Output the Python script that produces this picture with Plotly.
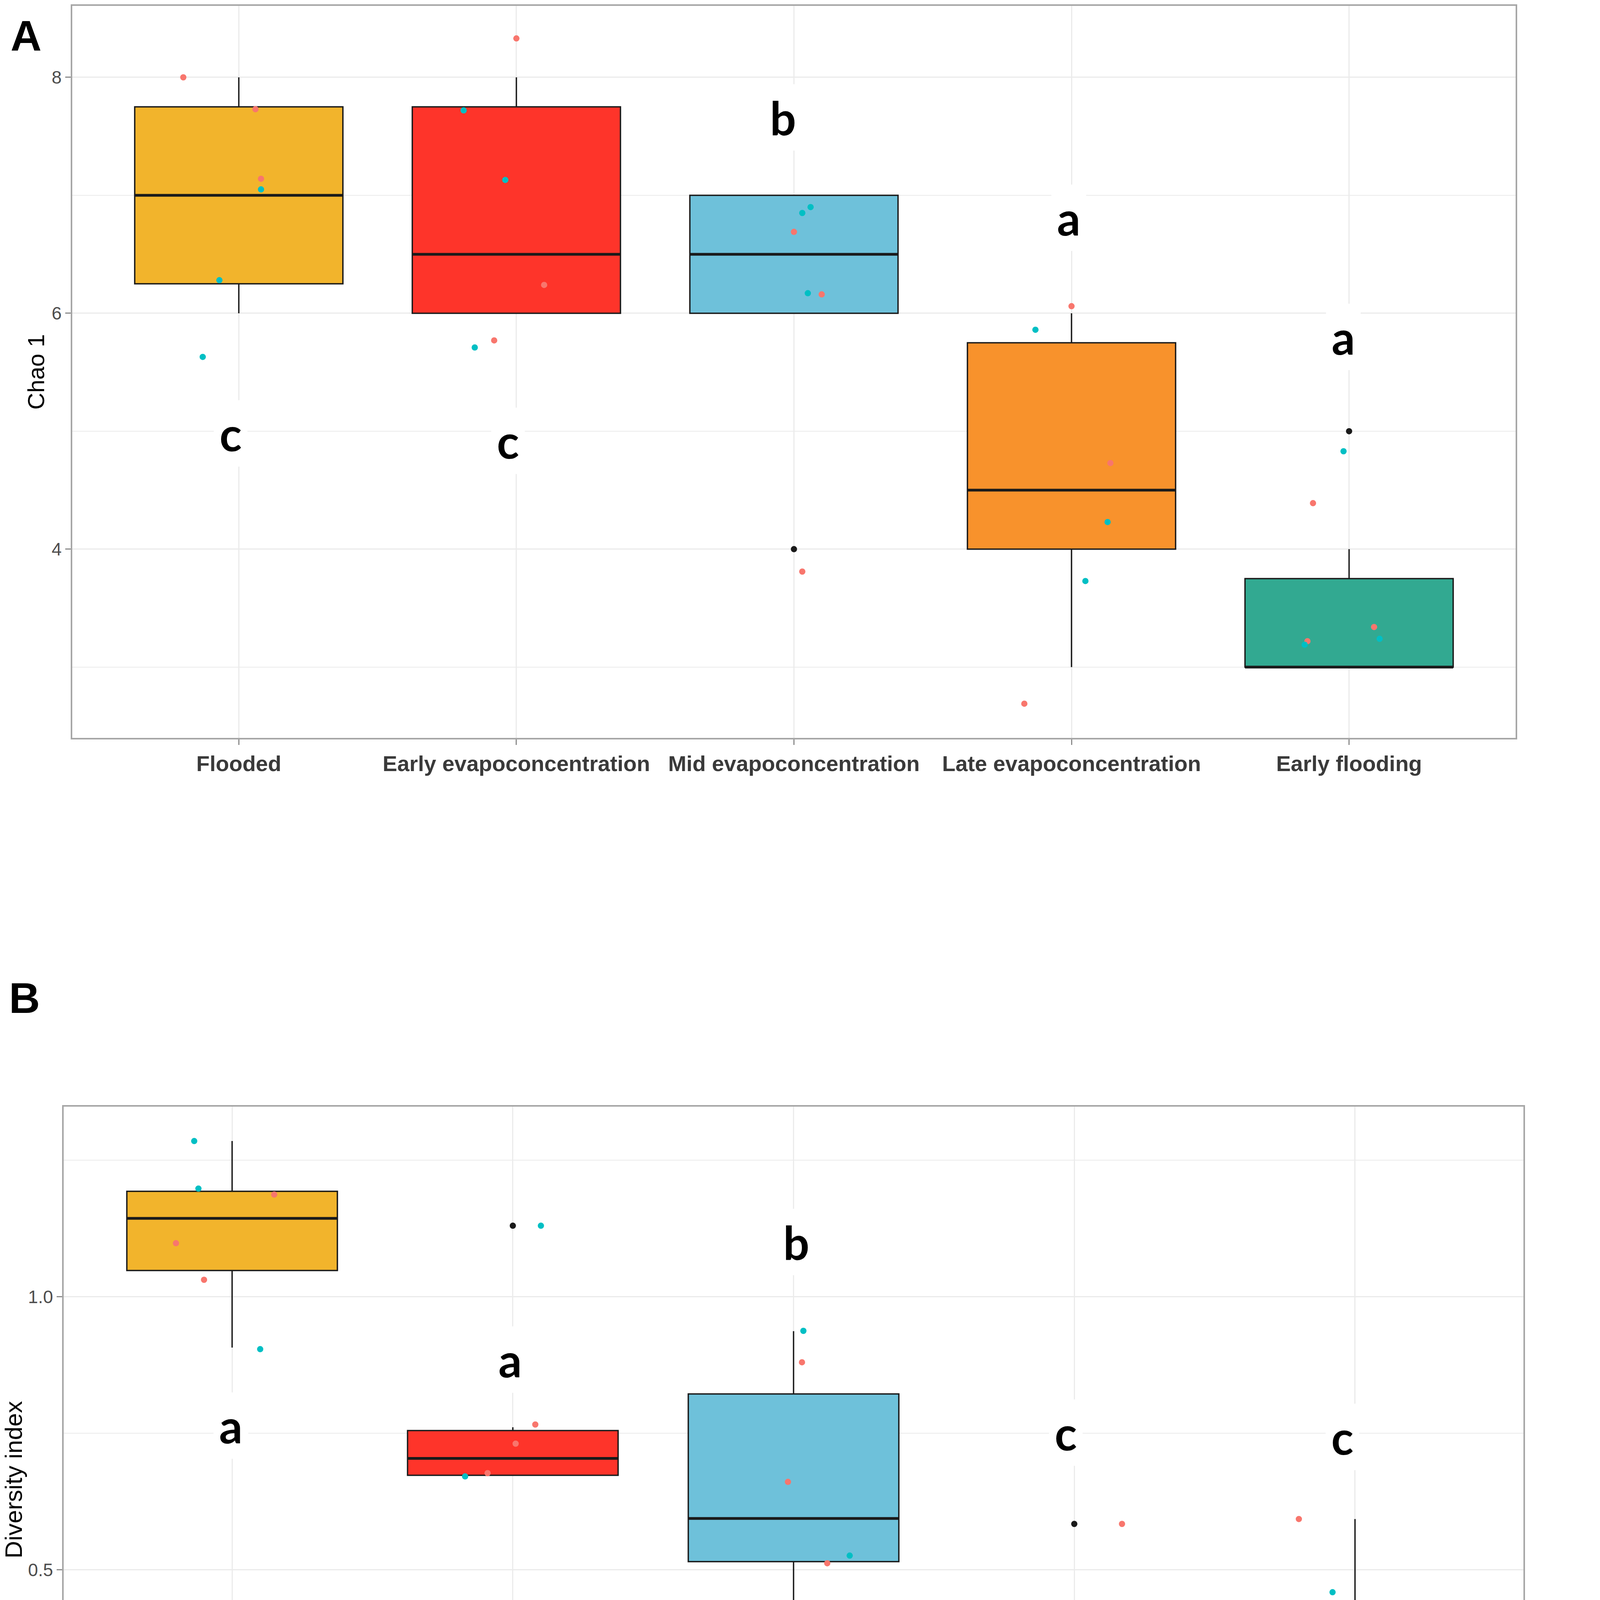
import plotly.graph_objects as go

# -----------------------------------
# Data
# -----------------------------------

categories = ["Flooded", "Early evapoconcentration", "Mid evapoconcentration",
              "Late evapoconcentration", "Early flooding"]

# Panel A - Chao 1 box statistics
chao_q1 = [6.25, 6.0, 6.0, 4.0, 3.0]
chao_median = [7.0, 6.5, 6.5, 4.5, 3.0]
chao_q3 = [7.75, 7.75, 7.0, 5.75, 3.75]
chao_lower = [6.0, 6.0, 6.0, 3.0, 3.0]
chao_upper = [8.0, 8.0, 7.0, 6.0, 4.0]
chao_outlier_cat = [2, 4]
chao_outlier_val = [4.0, 5.0]

# Panel A - jittered points (category index, jitter offset, value)
chao_salt_cat = [0, 0, 0, 1, 1, 1, 2, 2, 2, 3, 3, 3, 4, 4, 4]
chao_salt_jit = [-0.20, 0.06, 0.08, 0.0, 0.10, -0.08, 0.0, 0.10, 0.03,
                 0.0, 0.14, -0.17, -0.13, 0.09, -0.15]
chao_salt_val = [8.0, 7.73, 7.14, 8.33, 6.24, 5.77, 6.69, 6.16, 3.81,
                 6.06, 4.73, 2.69, 4.39, 3.34, 3.22]

chao_sed_cat = [0, 0, 0, 1, 1, 1, 2, 2, 2, 3, 3, 3, 4, 4, 4]
chao_sed_jit = [0.08, -0.07, -0.13, -0.19, -0.04, -0.15, 0.03, 0.06, 0.05,
                -0.13, 0.13, 0.05, -0.02, 0.11, -0.16]
chao_sed_val = [7.05, 6.28, 5.63, 7.72, 7.13, 5.71, 6.85, 6.90, 6.17,
                5.86, 4.23, 3.73, 4.83, 3.24, 3.19]

chao_letters = ["c", "c", "b", "a", "a"]
chao_letter_jit = [-0.03, -0.03, -0.04, -0.01, -0.02]
chao_letter_y = [4.98, 4.92, 7.66, 6.81, 5.80]

# Panel B - Diversity index box statistics
div_q1 = [1.048, 0.673, 0.515, 0.207, 0.181]
div_median = [1.1435, 0.704, 0.594, 0.266, 0.195]
div_q3 = [1.193, 0.755, 0.822, 0.343, 0.393]
div_lower = [0.907, 0.673, 0.398, 0.046, 0.100]
div_upper = [1.285, 0.761, 0.937, 0.352, 0.593]
div_outlier_cat = [1, 1, 3]
div_outlier_val = [1.13, 0.434, 0.584]

div_salt_cat = [0, 0, 0, 1, 1, 1, 2, 2, 2, 3, 3, 3, 4, 4, 4]
div_salt_jit = [0.15, -0.20, -0.10, 0.08, 0.01, -0.09, 0.03, -0.02, 0.12,
                0.17, -0.04, -0.02, -0.20, -0.07, 0.04]
div_salt_val = [1.187, 1.098, 1.031, 0.766, 0.731, 0.677, 0.880, 0.661, 0.512,
                0.584, 0.218, 0.044, 0.593, 0.175, 0.096]

div_sed_cat = [0, 0, 0, 1, 1, 1, 2, 2, 2, 3, 3, 3, 4, 4, 4]
div_sed_jit = [-0.135, -0.12, 0.10, 0.10, -0.17, -0.17, 0.035, 0.20, -0.14,
               0.12, 0.15, 0.12, -0.08, -0.13, 0.02]
div_sed_val = [1.285, 1.198, 0.904, 1.13, 0.671, 0.436, 0.9375, 0.526, 0.396,
               0.355, 0.313, 0.199, 0.459, 0.195, 0.195]

div_letters = ["a", "a", "b", "c", "c"]
div_letter_jit = [-0.005, -0.01, 0.01, -0.03, -0.045]
div_letter_y = [0.764, 0.885, 1.10, 0.751, 0.743]

# -----------------------------------
# Styles
# -----------------------------------

box_colors = ["#F2B42C", "#FE342A", "#6EC1DA", "#F8922C", "#32A991"]
salt_color = "#F8766D"
sed_color = "#00BFC4"
grid_color = "#EBEBEB"
frame_color = "#A6A6A6"
box_width = 0.75

W, H = 4500, 4843

fig = go.Figure()


def add_panel(xa, ya, q1, med, q3, lo, hi, out_cat, out_val,
              s_cat, s_jit, s_val, d_cat, d_jit, d_val):

    # Boxes
    for i in range(len(categories)):
        fig.add_trace(go.Box(
            x=[i], q1=[q1[i]], median=[med[i]], q3=[q3[i]],
            lowerfence=[lo[i]], upperfence=[hi[i]],
            width=box_width, whiskerwidth=0,
            fillcolor=box_colors[i],
            line=dict(color="#1A1A1A", width=3.5),
            boxpoints=False, showlegend=False, hoverinfo="skip",
            xaxis=xa, yaxis=ya
        ))
        # thicker median line
        fig.add_trace(go.Scatter(
            x=[i - box_width / 2, i + box_width / 2], y=[med[i], med[i]],
            mode="lines", line=dict(color="#1A1A1A", width=7),
            showlegend=False, hoverinfo="skip", xaxis=xa, yaxis=ya
        ))

    # Outliers
    fig.add_trace(go.Scatter(
        x=out_cat, y=out_val, mode="markers",
        marker=dict(color="#1A1A1A", size=16),
        showlegend=False, xaxis=xa, yaxis=ya
    ))

    # Jittered points
    fig.add_trace(go.Scatter(
        x=[c + j for c, j in zip(s_cat, s_jit)], y=s_val, mode="markers",
        marker=dict(color=salt_color, size=16), name="salt mat",
        showlegend=False, xaxis=xa, yaxis=ya
    ))
    fig.add_trace(go.Scatter(
        x=[c + j for c, j in zip(d_cat, d_jit)], y=d_val, mode="markers",
        marker=dict(color=sed_color, size=16), name="sediment",
        showlegend=False, xaxis=xa, yaxis=ya
    ))


add_panel("x", "y", chao_q1, chao_median, chao_q3, chao_lower, chao_upper,
          chao_outlier_cat, chao_outlier_val,
          chao_salt_cat, chao_salt_jit, chao_salt_val,
          chao_sed_cat, chao_sed_jit, chao_sed_val)

add_panel("x2", "y2", div_q1, div_median, div_q3, div_lower, div_upper,
          div_outlier_cat, div_outlier_val,
          div_salt_cat, div_salt_jit, div_salt_val,
          div_sed_cat, div_sed_jit, div_sed_val)

# -----------------------------------
# Axes
# -----------------------------------

xaxis_common = dict(
    range=[-0.6, 4.6],
    tickmode="array",
    tickvals=list(range(len(categories))),
    ticktext=categories,
    tickfont=dict(family="Liberation Sans", size=56, color="#3A3A3A",
                  weight="bold"),
    showgrid=True, gridcolor=grid_color, gridwidth=3,
    ticks="outside", ticklen=14, tickwidth=3, tickcolor="#8C8C8C",
    showline=True, mirror=True, linecolor=frame_color, linewidth=4,
    zeroline=False,
)

yaxis_common = dict(
    tickfont=dict(family="Liberation Sans", size=46, color="#4D4D4D"),
    showgrid=True, gridcolor=grid_color, gridwidth=3,
    ticks="outside", ticklen=14, tickwidth=3, tickcolor="#8C8C8C",
    showline=True, mirror=True, linecolor=frame_color, linewidth=4,
    zeroline=False,
)

fig.update_layout(
    width=W, height=H,
    margin=dict(l=0, r=0, t=0, b=0),
    paper_bgcolor="white", plot_bgcolor="white",
    boxmode="overlay",
    showlegend=False,
    xaxis=dict(xaxis_common, domain=[185 / W, 3880 / W], anchor="y"),
    yaxis=dict(
        yaxis_common, domain=[1 - 1889 / H, 1 - 15 / H], anchor="x",
        range=[2.40, 8.606], tickvals=[4, 6, 8],
        minor=dict(tickvals=[3, 5, 7], showgrid=True, gridcolor=grid_color,
                   gridwidth=2, ticks=""),
        title=dict(text="Chao 1", standoff=0,
                   font=dict(family="Liberation Sans", size=60, color="black")),
    ),
    xaxis2=dict(xaxis_common, domain=[163 / W, 3900 / W], anchor="y2"),
    yaxis2=dict(
        yaxis_common, domain=[1 - 4743 / H, 1 - 2833 / H], anchor="x2",
        range=[-0.018, 1.348], tickvals=[0.0, 0.5, 1.0],
        ticktext=["0.0", "0.5", "1.0"],
        minor=dict(tickvals=[0.25, 0.75, 1.25], showgrid=True,
                   gridcolor=grid_color, gridwidth=2, ticks=""),
        title=dict(text="Diversity index", standoff=18,
                   font=dict(family="Liberation Sans", size=62, color="black")),
    ),
)

# -----------------------------------
# Significance letters
# -----------------------------------

annotations = []
for i, (t, j, y) in enumerate(zip(chao_letters, chao_letter_jit, chao_letter_y)):
    annotations.append(dict(
        x=i + j, y=y, xref="x", yref="y", text="<b>" + t + "</b>",
        showarrow=False, bgcolor="white", borderpad=14,
        font=dict(family="Lato", size=118, color="black")
    ))
for i, (t, j, y) in enumerate(zip(div_letters, div_letter_jit, div_letter_y)):
    annotations.append(dict(
        x=i + j, y=y, xref="x2", yref="y2", text="<b>" + t + "</b>",
        showarrow=False, bgcolor="white", borderpad=14,
        font=dict(family="Lato", size=118, color="black")
    ))

# Panel tags
annotations.append(dict(
    x=66 / W, y=1 - 90 / H, xref="paper", yref="paper", text="<b>A</b>",
    showarrow=False, xanchor="center", yanchor="middle",
    font=dict(family="Liberation Sans", size=110, color="black")
))
annotations.append(dict(
    x=62 / W, y=1 - 2555 / H, xref="paper", yref="paper", text="<b>B</b>",
    showarrow=False, xanchor="center", yanchor="middle",
    font=dict(family="Liberation Sans", size=110, color="black")
))

# -----------------------------------
# Legend (drawn manually for ggplot-sized keys)
# -----------------------------------

annotations.append(dict(
    x=4118 / W, y=1 - 2200 / H, xref="paper", yref="paper", text="layer",
    showarrow=False, xanchor="left", yanchor="middle",
    font=dict(family="Liberation Sans", size=66, color="black")
))
legend_items = [("salt mat", salt_color, 2318), ("sediment", sed_color, 2423)]
shapes = []
for label, color, yc in legend_items:
    annotations.append(dict(
        x=4258 / W, y=1 - yc / H, xref="paper", yref="paper", text=label,
        showarrow=False, xanchor="left", yanchor="middle",
        font=dict(family="Liberation Sans", size=54, color="black")
    ))
    shapes.append(dict(
        type="circle", xref="paper", yref="paper",
        x0=(4178 - 14) / W, x1=(4178 + 14) / W,
        y0=1 - (yc + 14) / H, y1=1 - (yc - 14) / H,
        fillcolor=color, line=dict(width=0)
    ))

fig.update_layout(annotations=annotations, shapes=shapes)

fig.write_html(
    "out.html",
    post_script="document.body.style.margin='0';"
                "document.body.style.overflow='hidden';"
)
